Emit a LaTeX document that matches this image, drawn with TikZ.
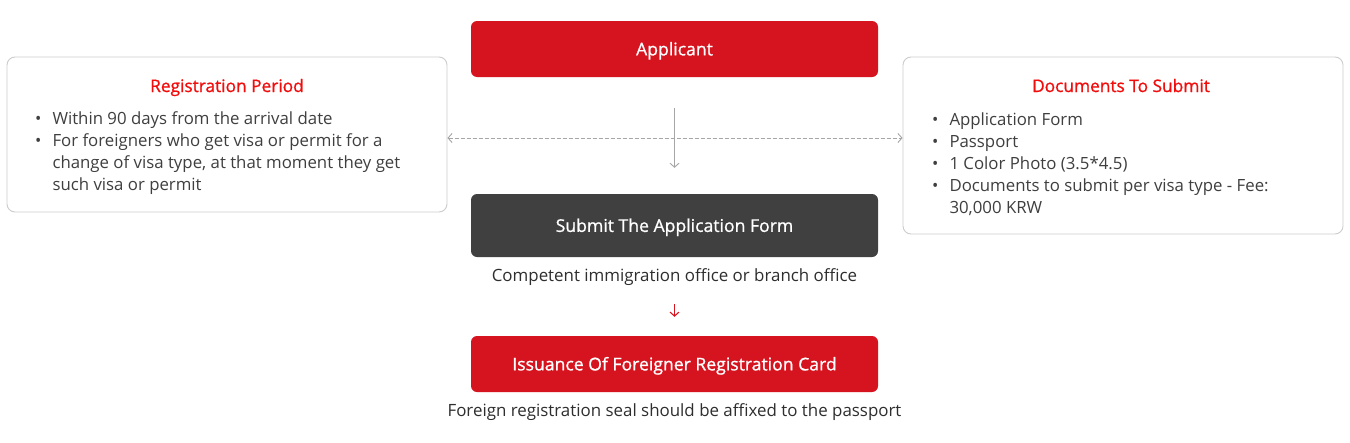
\documentclass[tikz,border=0pt]{standalone}
\usepackage{fontspec}
\setmainfont{Open Sans}
\newfontfamily\medfont{Open Sans}[FakeBold=0.9]
\usetikzlibrary{arrows.meta}
\definecolor{brand}{HTML}{D6141F}
\definecolor{titlered}{HTML}{F20D0D}
\definecolor{darkbox}{HTML}{404040}
\definecolor{bodytext}{HTML}{3F3F3F}
\definecolor{captext}{HTML}{2E2E2E}
\definecolor{bordergray}{HTML}{CCCCCC}
\definecolor{linegray}{HTML}{A6A6A6}
\begin{document}
\begin{tikzpicture}[x=1pt,y=-1pt,
  flowbox/.style={rounded corners=6pt, minimum width=407pt, inner sep=0pt, text=white,
    text height=12.8pt, text depth=0pt, font=\medfont\fontsize{17.6}{20}\selectfont},
  redbox/.style={flowbox, fill=brand, minimum height=56pt},
  greybox/.style={flowbox, fill=darkbox, minimum height=63pt},
  infobox/.style={draw=bordergray, line width=0.9pt, fill=white, rounded corners=8pt, inner sep=0pt, minimum width=440pt},
  boxtitle/.style={text=titlered, inner sep=0pt, anchor=base, font=\medfont\fontsize{17.3}{20}\selectfont},
  bodylist/.style={text=bodytext, inner sep=0pt, anchor=base west, font=\fontsize{16.8}{22.2}\selectfont},
  caption/.style={text=captext, inner sep=0pt, anchor=base, font=\fontsize{16.9}{20}\selectfont},
  greyarrow/.style={draw=linegray, line width=0.9pt, -{Straight Barb[length=4pt,width=9pt]}},
  redarrow/.style={draw=brand, line width=1.1pt, -{Straight Barb[length=4pt,width=9pt]}}
]
\useasboundingbox[fill=white] (0,0) rectangle (1350,442);

\node[redbox] (app) at (674.5,49) {Applicant};
\node[greybox] (sub) at (674.5,225.5) {Submit The Application Form};
\node[redbox] (iss) at (674.5,364) {Issuance Of Foreigner Registration Card};

\node[infobox, minimum height=155pt] (lbox) at (227,134.5) {};
\node[infobox, minimum height=177pt] (rbox) at (1123,145.5) {};

\node[boxtitle] (ltitle) at (227,92) {Registration Period};
\node[boxtitle] (rtitle) at (1121,92) {Documents To Submit};

\node[bodylist] (llist) at (35,124) {\begin{tabular}[t]{@{}l@{\hspace{11pt}}l@{}}
\textbullet & Within 90 days from the arrival date\\
\textbullet & For foreigners who get visa or permit for a\\
 & change of visa type, at that moment they get\\
 & such visa or permit
\end{tabular}};
\node[bodylist] (rlist) at (932,125) {\begin{tabular}[t]{@{}l@{\hspace{11pt}}l@{}}
\textbullet & Application Form\\
\textbullet & Passport\\
\textbullet & 1 Color Photo (3.5*4.5)\\
\textbullet & Documents to submit per visa type - Fee:\\
 & 30,000 KRW
\end{tabular}};

\node[caption] (cap1) at (674.5,281) {Competent immigration office or branch office};
\node[caption] (cap2) at (674.5,416) {Foreign registration seal should be affixed to the passport};

\coordinate (dashy) at (0,138);
\draw[draw=linegray, line width=0.9pt, dash pattern=on 4pt off 2pt,
  {Straight Barb[length=4pt,width=9pt]}-{Straight Barb[length=4pt,width=9pt]}]
  (lbox.east |- dashy) -- (rbox.west |- dashy);
\draw[greyarrow] ([yshift=-31pt]app.south) -- ([yshift=26pt]sub.north);
\draw[redarrow] ([yshift=-23pt]cap1.base) -- ([yshift=19pt]iss.north);
\end{tikzpicture}
\end{document}
